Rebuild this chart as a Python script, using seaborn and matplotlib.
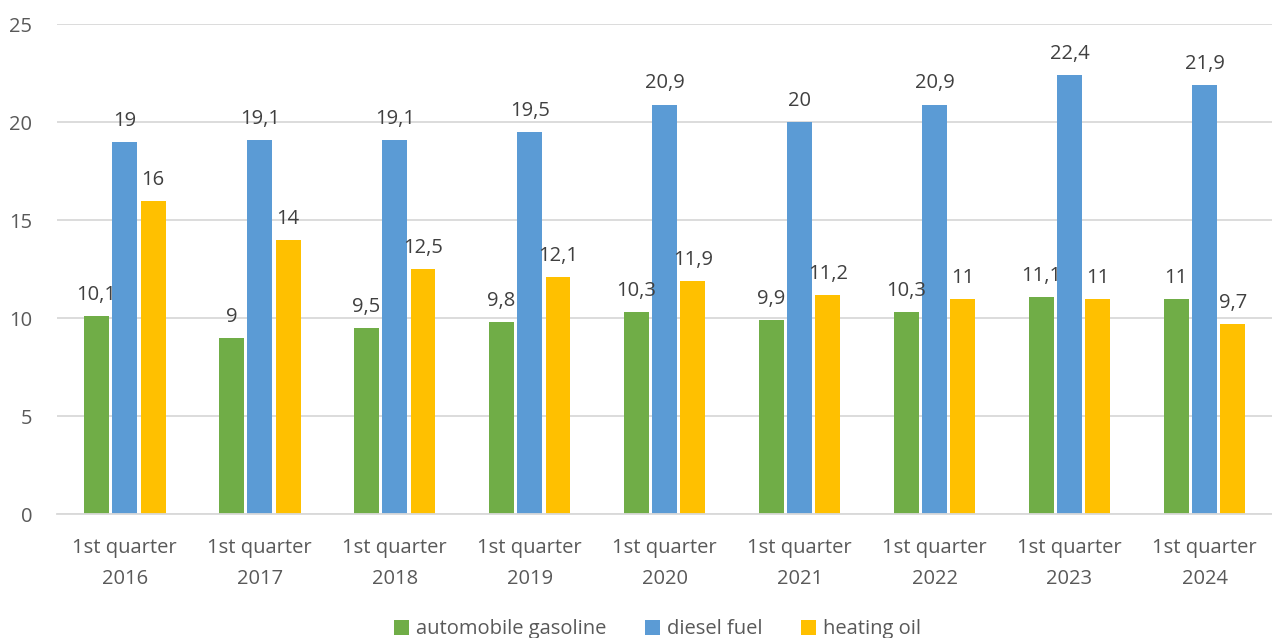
import numpy as np
import pandas as pd
import matplotlib
matplotlib.use('Agg')
import matplotlib.pyplot as plt
import seaborn as sns

years = ['2016', '2017', '2018', '2019', '2020', '2021', '2022', '2023', '2024']
gasoline = [10.1, 9.0, 9.5, 9.8, 10.3, 9.9, 10.3, 11.1, 11.0]
diesel = [19.0, 19.1, 19.1, 19.5, 20.9, 20.0, 20.9, 22.4, 21.9]
heating = [16.0, 14.0, 12.5, 12.1, 11.9, 11.2, 11.0, 11.0, 9.7]
series = ['automobile gasoline', 'diesel fuel', 'heating oil']
colors = ['#70AD47', '#5B9BD5', '#FFC000']

cats = ['1st quarter\n' + y for y in years]
df = pd.DataFrame({
    'period': cats * 3,
    'fuel': [series[0]] * 9 + [series[1]] * 9 + [series[2]] * 9,
    'value': gasoline + diesel + heating,
})

sns.set_style('white')
plt.rcParams['font.family'] = ['Open Sans', 'DejaVu Sans']
txt = '#595959'
fs = 14.5

fig = plt.figure(figsize=(12.72, 6.38), dpi=100)
ax = fig.add_axes([0.045, 0.194, 0.955, 0.768])

sns.barplot(data=df, x='period', y='value', hue='fuel', palette=colors,
            saturation=1, width=0.63, gap=0.12, linewidth=0, ax=ax, legend=True)

def fmt(v):
    if float(v).is_integer():
        return str(int(v))
    return ('%.1f' % v).replace('.', ',')

for cont in ax.containers:
    ax.bar_label(cont, labels=[fmt(b.get_height()) for b in cont], padding=8,
                 fontsize=fs, color='#404040')

ax.set_ylim(0, 25)
ax.set_yticks([0, 5, 10, 15, 20, 25])
ax.set_xlim(-0.5, 8.5)
ax.yaxis.grid(True, color='#D9D9D9', linewidth=1.3)
ax.set_axisbelow(True)
for s in ['top', 'right', 'left']:
    ax.spines[s].set_visible(False)
ax.spines['bottom'].set_color('#D9D9D9')
ax.spines['bottom'].set_linewidth(1.3)
ax.tick_params(axis='both', length=0, labelsize=fs, labelcolor=txt)
ax.tick_params(axis='y', pad=18)
ax.tick_params(axis='x', pad=17)
for t in ax.get_xticklabels():
    t.set_linespacing(1.75)
ax.set_xlabel('')
ax.set_ylabel('')

handles, labels = ax.get_legend_handles_labels()
ax.legend(handles, labels, loc='center', bbox_to_anchor=(0.494, -0.235),
          ncol=3, frameon=False, fontsize=fs, labelcolor=txt,
          handlelength=0.75, handleheight=0.75, handletextpad=0.35, columnspacing=1.9)

fig.savefig('out.png', dpi=100)
